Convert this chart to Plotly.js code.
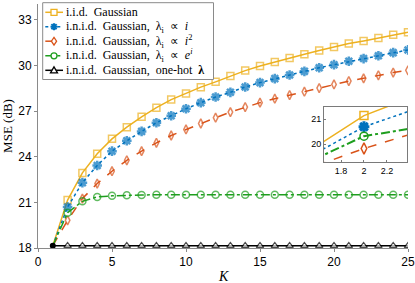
<!DOCTYPE html>
<html><head><meta charset="utf-8">
<script src="https://cdn.plot.ly/plotly-3.0.1.min.js"></script>
<style>html,body{margin:0;padding:0;background:#fff}#c{width:415px;height:283px}</style>
</head><body><div id="c"></div>
<script>
const K = [1,2,3,4,5,6,7,8,9,10,11,12,13,14,15,16,17,18,19,20,21,22,23,24,25];
const iid   = [18.15,21.15,22.94,24.2,25.18,25.95,26.63,27.23,27.76,28.17,28.58,28.93,29.31,29.67,29.97,30.24,30.5,30.74,30.99,31.22,31.45,31.62,31.82,32.02,32.19];
const linI  = [18.15,20.7,22.3,23.43,24.37,25.05,25.67,26.24,26.7,27.16,27.56,27.93,28.24,28.59,28.88,29.14,29.38,29.62,29.86,30.06,30.28,30.46,30.65,30.85,31.03];
const quadI = [18.15,19.82,21.25,22.24,23.05,23.77,24.37,24.92,25.4,25.8,26.19,26.57,26.94,27.27,27.56,27.82,28.06,28.28,28.52,28.76,28.98,29.16,29.36,29.54,29.69];
const expI  = [18.15,20.32,21.07,21.36,21.43,21.47,21.49,21.5,21.5,21.5,21.5,21.5,21.5,21.5,21.5,21.5,21.5,21.5,21.5,21.5,21.5,21.5,21.5,21.5,21.5];
const oneHot= [18.15,18.15,18.15,18.15,18.15,18.15,18.15,18.15,18.15,18.15,18.15,18.15,18.15,18.15,18.15,18.15,18.15,18.15,18.15,18.15,18.15,18.15,18.15,18.15,18.15];
const names = ['i.i.d.&nbsp; Gaussian',
  'i.n.i.d.&nbsp; Gaussian,&nbsp; λ<sub>i</sub>&nbsp; ∝&nbsp; <i>i</i>',
  'i.n.i.d.&nbsp; Gaussian,&nbsp; λ<sub>i</sub>&nbsp; ∝&nbsp; <i>i</i><sup>2</sup>',
  'i.n.i.d.&nbsp; Gaussian,&nbsp; λ<sub>i</sub>&nbsp; ∝&nbsp; <i>e</i><sup><i>i</i></sup>',
  'i.n.i.d.&nbsp; Gaussian,&nbsp; one-hot&nbsp; <b>λ</b>'];

const series = [iid, linI, quadI, expI, oneHot];
const colors = ['#EDB120','#0072BD','#D95319','#1E9E1E','#000000'];
const dashes = ['solid','dot','dash','dashdot','solid'];
const symbols = ['square-open','asterisk-open','diamond-tall-open','circle-open','triangle-up'];
const msize = [7,8,6.5,7,6.5];

function sizes(s){ return K.map((k,i)=> i===0 ? 0 : s); }

const traces = [];
series.forEach((ys,j)=>{
  const mk = {symbol:symbols[j], size:sizes(msize[j]), color:colors[j], line:{color:colors[j], width:1.5}};
  if(j===1){ mk.line.width = 2.5; }
  if(j===4){ mk.color='#ffffff'; mk.line={color:'#000',width:1.3}; }
  traces.push({x:K, y:ys, name:names[j], mode:'lines+markers', showlegend:false,
    line:{color:colors[j], dash:dashes[j], width:1.5}, marker:mk});
});
traces.push({x:[K[0]], y:[oneHot[0]], mode:'markers', showlegend:false,
  marker:{symbol:'circle', size:6, color:'#000'}});
// inset
series.slice(0,4).forEach((ys,j)=>{
  const mk = {symbol:symbols[j], size:(j===1?9:8), color:colors[j], line:{color:colors[j], width:(j===1?3:1.5)}};
  traces.push({x:K, y:ys, mode:'lines+markers', showlegend:false, xaxis:'x2', yaxis:'y2',
    line:{color:colors[j], dash:dashes[j], width:(j===3?2:1.5)}, marker:mk});
});

// custom legend (pixel helpers relative to plot area)
const PL=38, PT=4, PW=370, PH=244;
const px = x => (x-PL)/PW;
const py = y => (PT+PH-y)/PH;
const shapes = [];
const annotations = [];
shapes.push({type:'rect', xref:'paper', yref:'paper', x0:px(42.7), x1:px(213.5), y0:py(79.5), y1:py(2.7),
  line:{color:'#8a8a8a', width:1}, fillcolor:'#ffffff', layer:'above'});
const rowY = [12.3, 26.7, 41.2, 55.8, 70.3];
const lx0=45.3, lx1=63, mx=54;
function poly(pts){ return 'M ' + pts.map(p=>px(p[0])+','+py(p[1])).join(' L ') + ' Z'; }
rowY.forEach((y,j)=>{
  shapes.push({type:'line', xref:'paper', yref:'paper', x0:px(lx0), x1:px(lx1), y0:py(y), y1:py(y),
    line:{color:colors[j], width:1.5, dash:dashes[j]}, layer:'above'});
  const c = colors[j];
  if(j===0){
    shapes.push({type:'rect', xref:'paper', yref:'paper', x0:px(mx-3), x1:px(mx+3), y0:py(y+3), y1:py(y-3),
      line:{color:c, width:1.3}, fillcolor:'#fff', layer:'above'});
  } else if(j===1){
    const r=3.5, d=2.6;
    [[[-r,0],[r,0]],[[0,-r],[0,r]],[[-d,-d],[d,d]],[[-d,d],[d,-d]]].forEach(s=>{
      shapes.push({type:'line', xref:'paper', yref:'paper', x0:px(mx+s[0][0]), y0:py(y+s[0][1]), x1:px(mx+s[1][0]), y1:py(y+s[1][1]),
        line:{color:c, width:2}, layer:'above'});
    });
  } else if(j===2){
    shapes.push({type:'path', xref:'paper', yref:'paper', path:poly([[mx,y-3.8],[mx+2.6,y],[mx,y+3.8],[mx-2.6,y]]),
      line:{color:c, width:1.3}, fillcolor:'#fff', layer:'above'});
  } else if(j===3){
    shapes.push({type:'circle', xref:'paper', yref:'paper', x0:px(mx-3), x1:px(mx+3), y0:py(y+3), y1:py(y-3),
      line:{color:c, width:1.3}, fillcolor:'#fff', layer:'above'});
  } else {
    shapes.push({type:'path', xref:'paper', yref:'paper', path:poly([[mx,y-3.5],[mx+3.5,y+2.5],[mx-3.5,y+2.5]]),
      line:{color:c, width:1.3}, fillcolor:'#fff', layer:'above'});
  }
  annotations.push({xref:'paper', yref:'paper', x:px(64.3), y:py(y), xanchor:'left', yanchor:'middle',
    showarrow:false, text:names[j], font:{family:'Liberation Serif, serif', size:12, color:'#000'}});
});
// x-axis title placed as annotation (below margin constraint)
annotations.push({xref:'paper', yref:'paper', x:px(223), y:py(276.5), xanchor:'center', yanchor:'middle',
  showarrow:false, text:'<i>K</i>', font:{family:'Liberation Serif, serif', size:14, color:'#000'}});

const layout = {
  width:415, height:283,
  margin:{l:PL, r:415-PL-PW, t:PT, b:283-PT-PH},
  paper_bgcolor:'#fff', plot_bgcolor:'#fff',
  font:{family:'Liberation Sans, Arial, sans-serif', size:12, color:'#000'},
  showlegend:false,
  xaxis:{range:[0,25], tickvals:[0,5,10,15,20,25], showgrid:false, zeroline:false,
    showline:true, linecolor:'#8a8a8a', linewidth:1, ticks:'outside', ticklen:3, tickcolor:'#8a8a8a',
    tickfont:{size:12}, domain:[0,1]},
  yaxis:{range:[18,34.05], tickvals:[18,21,24,27,30,33], showgrid:false, zeroline:false,
    showline:true, linecolor:'#8a8a8a', linewidth:1, ticks:'outside', ticklen:3, tickcolor:'#8a8a8a',
    tickfont:{size:12},
    title:{text:'MSE (dB)', font:{family:'Liberation Serif, serif', size:13}, standoff:2}},
  xaxis2:{domain:[0.773,0.998], anchor:'y2', range:[1.652,2.377], tickvals:[1.8,2,2.2], ticktext:['1.8','2','2.2'],
    showgrid:false, zeroline:false, showline:true, mirror:true, linecolor:'#7a7a7a', linewidth:1,
    ticks:'inside', ticklen:2, tickcolor:'#7a7a7a', tickfont:{size:9}},
  yaxis2:{domain:[0.351,0.579], anchor:'x2', range:[19.26,21.51], tickvals:[20,21],
    showgrid:false, zeroline:false, showline:true, mirror:true, linecolor:'#7a7a7a', linewidth:1,
    ticks:'inside', ticklen:2, tickcolor:'#7a7a7a', tickfont:{size:9}},
  shapes:shapes, annotations:annotations
};
Plotly.newPlot('c', traces, layout, {staticPlot:true, displayModeBar:false});
</script></body></html>
